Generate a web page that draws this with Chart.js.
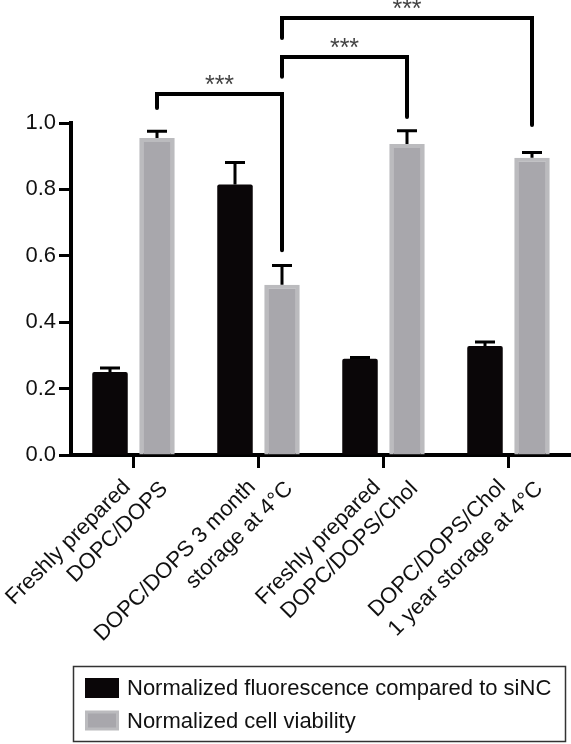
<!DOCTYPE html>
<html>
<head>
<meta charset="utf-8">
<script src="https://cdn.jsdelivr.net/npm/chart.js@4/dist/chart.umd.min.js"></script>
<style>
  html, body { margin: 0; padding: 0; background: #fff; }
  #wrap { position: relative; width: 571px; height: 744px; }
</style>
</head>
<body>
<div id="wrap"><canvas id="myChart"></canvas></div>
<script>
// data
const categories = [
  ['Freshly prepared', 'DOPC/DOPS'],
  ['DOPC/DOPS 3 month', 'storage at 4\u00B0C'],
  ['Freshly prepared', 'DOPC/DOPS/Chol'],
  ['DOPC/DOPS/Chol', '1 year storage at 4\u00B0C']
];
const fluorescence = [0.25, 0.815, 0.29, 0.328];
const fluorescenceErr = [0.012, 0.066, 0.004, 0.012];
const viability = [0.955, 0.513, 0.937, 0.895];
const viabilityErr = [0.02, 0.058, 0.04, 0.016];
const yTicks = [0, 0.2, 0.4, 0.6, 0.8, 1.0];
const seriesNames = ['Normalized fluorescence compared to siNC', 'Normalized cell viability'];

// significance brackets between viability bars (category index, heights in axis units)
const sigFrom = [0, 1, 1];
const sigTo = [1, 2, 3];
const sigTop = [1.087, 1.199, 1.316];
const sigFromEnd = [1.045, 1.139, 1.256];
const sigToEnd = [0.617, 1.018, 0.994];
const sigText = ['***', '***', '***'];

const FONT = '"Liberation Sans", Arial, Helvetica, sans-serif';
const errors = [fluorescenceErr, viabilityErr];

const errorBars = {
  id: 'errorBars',
  afterDatasetsDraw(chart) {
    const ctx = chart.ctx, y = chart.scales.y;
    ctx.save();
    ctx.strokeStyle = '#000';
    ctx.lineWidth = 3;
    chart.data.datasets.forEach(function(ds, d) {
      chart.getDatasetMeta(d).data.forEach(function(bar, i) {
        const top = y.getPixelForValue(ds.data[i] + errors[d][i]);
        ctx.beginPath();
        ctx.moveTo(bar.x, bar.y);
        ctx.lineTo(bar.x, top);
        ctx.moveTo(bar.x - 10, top);
        ctx.lineTo(bar.x + 10, top);
        ctx.stroke();
      });
    });
    ctx.restore();
  }
};

const extras = {
  id: 'extras',
  afterDraw(chart) {
    const ctx = chart.ctx, x = chart.scales.x, y = chart.scales.y;
    const gray = chart.getDatasetMeta(1).data;
    ctx.save();
    // brackets
    ctx.strokeStyle = '#000';
    ctx.lineWidth = 4;
    ctx.lineCap = 'round';
    ctx.lineJoin = 'miter';
    for (let k = 0; k < sigFrom.length; k++) {
      const x1 = gray[sigFrom[k]].x, x2 = gray[sigTo[k]].x;
      const yt = y.getPixelForValue(sigTop[k]);
      ctx.beginPath();
      ctx.moveTo(x1, y.getPixelForValue(sigFromEnd[k]));
      ctx.lineTo(x1, yt);
      ctx.lineTo(x2, yt);
      ctx.lineTo(x2, y.getPixelForValue(sigToEnd[k]));
      ctx.stroke();
      ctx.fillStyle = '#444';
      ctx.font = '25px ' + FONT;
      ctx.textAlign = 'center';
      ctx.textBaseline = 'alphabetic';
      ctx.fillText(sigText[k], (x1 + x2) / 2, yt - 1);
    }
    // rotated category labels
    ctx.fillStyle = '#111';
    ctx.font = '22px ' + FONT;
    ctx.textAlign = 'right';
    ctx.textBaseline = 'alphabetic';
    categories.forEach(function(lines, i) {
      const px = x.getPixelForTick(i);
      ctx.save();
      ctx.translate(px - 2, chart.chartArea.bottom + 33);
      ctx.rotate(-Math.PI / 4);
      ctx.fillText(lines[0], 0, 0);
      ctx.fillText(lines[1], 25, 27.6);
      ctx.restore();
    });
    // legend box
    ctx.lineWidth = 1.5;
    ctx.strokeStyle = '#333';
    ctx.strokeRect(73.5, 666.5, 492, 75);
    const rows = [688, 720.5];
    chart.data.datasets.forEach(function(ds, d) {
      ctx.fillStyle = ds.borderColor;
      ctx.fillRect(85, rows[d] - 10, 34, 20);
      ctx.fillStyle = ds.backgroundColor;
      ctx.fillRect(88, rows[d] - 7, 28, 14);
      ctx.fillStyle = '#111';
      ctx.textAlign = 'left';
      ctx.textBaseline = 'middle';
      ctx.fillText(ds.label, 127, rows[d] + 1);
    });
    ctx.restore();
  }
};

new Chart(document.getElementById('myChart'), {
  type: 'bar',
  data: {
    labels: categories.map(function(c) { return c.join(' '); }),
    datasets: [
      {
        label: seriesNames[0],
        data: fluorescence,
        backgroundColor: '#0a0608',
        borderColor: '#0a0608',
        borderWidth: 0,
        borderRadius: 2,
        categoryPercentage: 0.752,
        barPercentage: 0.755
      },
      {
        label: seriesNames[1],
        data: viability,
        backgroundColor: '#a8a7ac',
        borderColor: '#bbbbbe',
        borderWidth: 4,
        borderSkipped: 'bottom',
        categoryPercentage: 0.752,
        barPercentage: 0.755
      }
    ]
  },
  options: {
    responsive: true,
    maintainAspectRatio: false,
    animation: false,
    layout: { padding: { top: 123, left: 0, right: 0, bottom: 269 } },
    plugins: {
      legend: { display: false },
      tooltip: { enabled: false }
    },
    scales: {
      x: {
        offset: true,
        grid: {
          offset: false,
          drawOnChartArea: false,
          color: '#000',
          tickLength: 13,
          tickWidth: 3
        },
        border: { color: '#000', width: 4 },
        ticks: { display: false },
        afterFit: function(s) { s.height = 20; }
      },
      y: {
        min: 0,
        max: 1.0,
        afterBuildTicks: function(s) { s.ticks = yTicks.map(function(v) { return { value: v }; }); },
        grid: {
          drawOnChartArea: false,
          color: '#000',
          tickLength: 12,
          tickWidth: 3
        },
        border: { color: '#000', width: 4 },
        ticks: {
          color: '#111',
          padding: 3,
          font: { family: FONT, size: 22 },
          callback: function(v) { return Number(v).toFixed(1); }
        },
        afterFit: function(s) { s.width = 71; }
      }
    }
  },
  plugins: [errorBars, extras]
});
</script>
</body>
</html>
